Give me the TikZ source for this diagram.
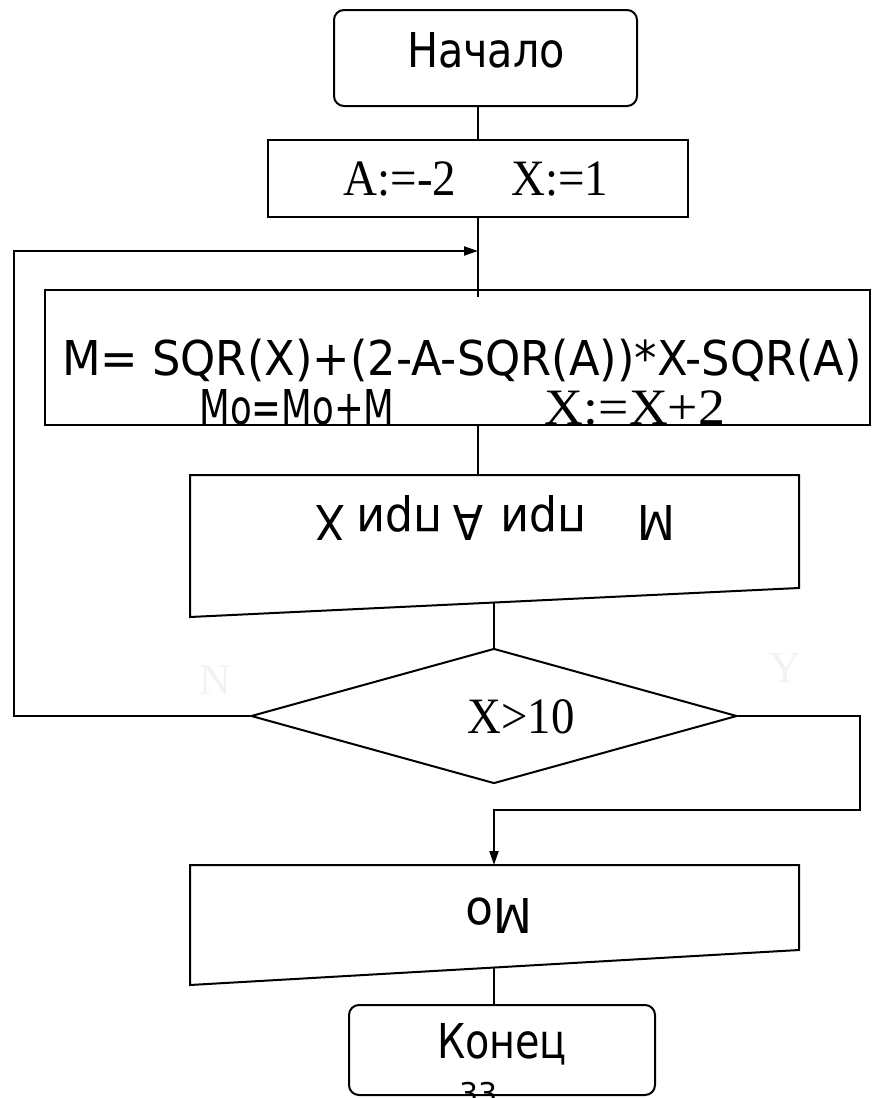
\documentclass[tikz,border=0pt]{standalone}
\usepackage{fontspec}
\usepackage{graphicx}
\setmainfont{Liberation Serif}
\newfontfamily\sansf{DejaVu Sans}
\usetikzlibrary{arrows.meta,shapes.geometric}
\begin{document}
\begin{tikzpicture}[x=1pt,y=-1pt, line width=2pt,
  box/.style={draw, rectangle, inner sep=0pt},
  term/.style={draw, rounded corners=10pt, inner sep=0pt},
  sans/.style={font=\fontsize{48}{58}\selectfont\sansf, inner sep=0pt},
  serif/.style={font=\fontsize{51}{60}\selectfont, inner sep=0pt},
  arr/.style={-{Triangle[length=14pt,width=9pt]}},
  faint/.style={text=black!5, font=\fontsize{44}{50}\selectfont, inner sep=0pt}]
\useasboundingbox (0,0) rectangle (881,1098);
\clip (0,0) rectangle (881,1098);

% shapes
\node[term, minimum width=303pt, minimum height=96pt] (start) at (485.5,58) {};
\node[box, minimum width=420pt, minimum height=77pt] (init) at (478,178.5) {};
\node[box, minimum width=825pt, minimum height=135pt] (proc) at (457.5,357.5) {};
\coordinate (o1a) at (190,475);
\coordinate (o1bb) at (799,475);
\coordinate (o1c) at (799,588);
\coordinate (o1d) at (190,617);
\draw (o1a) -- (o1bb) -- (o1c) -- (o1d) -- cycle;
\node[draw, diamond, minimum width=486pt, minimum height=135pt, inner sep=0pt] (dec) at (494,716) {};
\coordinate (o2a) at (190,865);
\coordinate (o2bb) at (799,865);
\coordinate (o2c) at (799,950);
\coordinate (o2d) at (190,985);
\draw (o2a) -- (o2bb) -- (o2c) -- (o2d) -- cycle;
\node[term, minimum width=306pt, minimum height=90pt] (end) at (502,1050) {};

% texts
\node[sans, anchor=base] (tstart) at (486,67) {\resizebox{158pt}{\height}{Начало}};
\node[serif, anchor=base] (tinit) at (476,195) {\resizebox{265pt}{\height}{A:=-2\hspace{60pt}X:=1}};
\node[sans, anchor=base] (tproc1) at (462,375) {\resizebox{800pt}{\height}{M= SQR(X)+(2-A-SQR(A))*X-SQR(A)}};
\node[sans, anchor=base] (tproc2) at (297,424) {\resizebox{195pt}{\height}{Mo=Mo+M}};
\node[serif, anchor=base] (tproc3) at (635,424) {\resizebox{180pt}{\height}{X:=X+2}};
\node[sans, rotate=180] (tout1) at (495,518) {\resizebox{360pt}{\height}{M\hspace{55pt}при\hspace{18pt}A\hspace{12pt}при\hspace{12pt}X}};
\node[faint] (tn) at (215,680) {N};
\node[faint] (ty) at (785,668) {Y};
\node[serif, anchor=base] (tdec) at (521,733) {\resizebox{107pt}{\height}{X>10}};
\node[sans, rotate=180] (tout2) at (499,916) {\resizebox{67pt}{\height}{Mo}};
\node[sans, anchor=base] (tend) at (502,1058) {\resizebox{130pt}{\height}{Конец}};
\node[font=\fontsize{30}{36}\selectfont\sansf, inner sep=0pt, anchor=base] (tpage) at (479,1104) {33};

% connectors
\coordinate (o1top) at (478,475);
\coordinate (o1bot) at (494,602.5);
\coordinate (o2top) at (494,865);
\coordinate (o2bot) at (494,967.5);
\coordinate (loopin) at (478,251);
\coordinate (lx) at (14,716);
\coordinate (yb) at (860,810);
\draw (init.north |- start.south) -- (init.north);
\draw (init.south) -- ([yshift=-8pt]init.south |- proc.north);
\draw (o1top |- proc.south) -- (o1top);
\draw (o1bot) -- (dec.north);
\draw[arr] (dec.west) -- (lx) |- (loopin);
\draw[arr] (dec.east) -| (yb) -| (o2top);
\draw (o2bot) -- (o2bot |- end.north);
\end{tikzpicture}
\end{document}
